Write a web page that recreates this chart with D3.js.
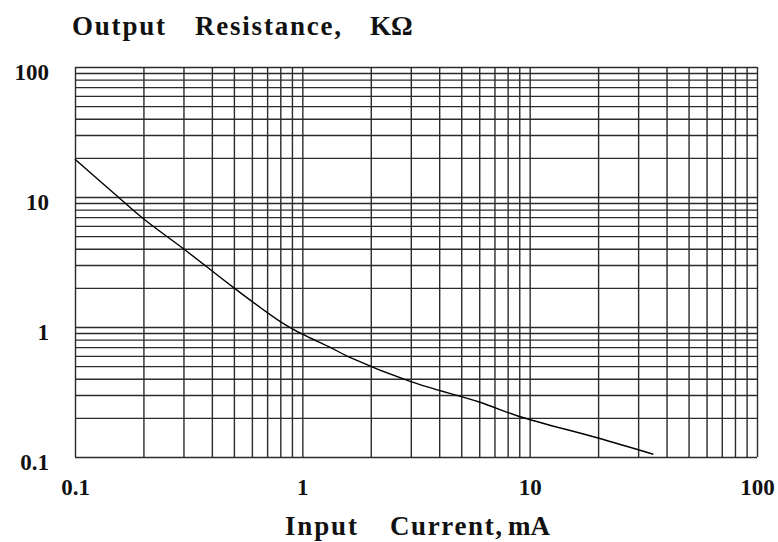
<!DOCTYPE html>
<html>
<head>
<style>
  body { margin: 0; background: #fff; }
  svg { display: block; }
  .grid line { stroke: #2b2b2b; stroke-width: 1.4; }
  .grid path { display: none; }
  .lbl text { font-family: "Liberation Serif", "Times New Roman", serif; font-weight: bold; font-size: 23px; fill: #111; }
  .lbl path, .lbl line { display: none; }
  .ttl { font-family: "Liberation Serif", "Times New Roman", serif; font-weight: bold; font-size: 27px; fill: #111; }
</style>
<script src="https://cdn.jsdelivr.net/npm/d3@7"></script>
</head>
<body>
<script>
// curve (input current mA -> output resistance kOhm)
var current = [0.1, 0.15, 0.2, 0.3, 0.5, 0.8, 1.0, 1.3, 1.6, 3, 6, 9, 20, 35];
var resistance = [19.5, 10.5, 6.8, 4.0, 2.0, 1.1, 0.88, 0.71, 0.59, 0.38, 0.265, 0.205, 0.14, 0.105];

var decadeTicks = [0.1, 1, 10, 100];
var decadeLabels = ["0.1", "1", "10", "100"];

var width = 778, height = 542;
var mLeft = 75, mRight = 757, mTop = 67, mBottom = 457;

var svg = d3.select("body").append("svg")
    .attr("width", width)
    .attr("height", height);

var x = d3.scaleLog().domain([0.1, 100]).range([mLeft, mRight]);
var y = d3.scaleLog().domain([0.1, 100]).range([mBottom, mTop]);

// every 1..9 line of each decade
var gridVals = [];
[0.1, 1, 10].forEach(function(d) {
    for (var i = 1; i < 10; i++) gridVals.push(+(d * i).toPrecision(3));
});
gridVals.push(100);

// vertical grid
svg.append("g")
    .attr("class", "grid")
    .attr("transform", "translate(0," + mBottom + ")")
    .call(d3.axisBottom(x).tickValues(gridVals).tickSize(-(mBottom - mTop)).tickFormat(""));

// horizontal grid
svg.append("g")
    .attr("class", "grid")
    .attr("transform", "translate(" + mLeft + ",0)")
    .call(d3.axisLeft(y).tickValues(gridVals).tickSize(-(mRight - mLeft)).tickFormat(""));

// tick labels
svg.append("g")
    .attr("class", "lbl")
    .attr("transform", "translate(0," + mBottom + ")")
    .call(d3.axisBottom(x).tickValues(decadeTicks).tickSize(0).tickPadding(22)
        .tickFormat(function(d, i) { return decadeLabels[i]; }));

svg.append("g")
    .attr("class", "lbl")
    .attr("transform", "translate(" + mLeft + ",0)")
    .call(d3.axisLeft(y).tickValues(decadeTicks).tickSize(0).tickPadding(26)
        .tickFormat(function(d, i) { return decadeLabels[i]; }))
    .selectAll("text").attr("dy", "0.55em");

// the curve
var pts = current.map(function(c, i) { return [c, resistance[i]]; });
svg.append("path")
    .datum(pts)
    .attr("fill", "none")
    .attr("stroke", "#000")
    .attr("stroke-width", 1.4)
    .attr("d", d3.line()
        .x(function(d) { return x(d[0]); })
        .y(function(d) { return y(d[1]); })
        .curve(d3.curveCatmullRom));

// titles, word by word to keep the wide spacing of the original
var yTitle = [["Output", 72, 93], ["Resistance,", 195, 146], ["K\u03A9", 370, 0]];
var xTitle = [["Input", 285, 72], ["Current,", 390, 112], ["mA", 508, 0]];

function words(sel, cls, yPos) {
    sel.enter().append("text")
        .attr("class", "ttl " + cls)
        .attr("x", function(d) { return d[1]; })
        .attr("y", yPos)
        .each(function(d) {
            if (d[2]) d3.select(this).attr("textLength", d[2]).attr("lengthAdjust", "spacing");
        })
        .text(function(d) { return d[0]; });
}
words(svg.selectAll("text.yt").data(yTitle), "yt", 35);
words(svg.selectAll("text.xt").data(xTitle), "xt", 535);
</script>
</body>
</html>
